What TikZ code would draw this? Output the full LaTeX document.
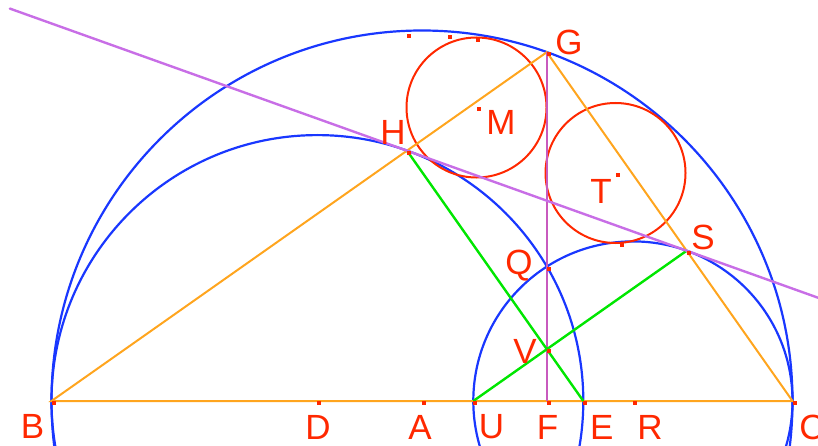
\documentclass[tikz,border=0pt]{standalone}
\usepackage{fontspec}
\setmainfont{Liberation Sans}
\usetikzlibrary{calc}
\definecolor{arcblue}{RGB}{25,55,255}
\definecolor{ptred}{RGB}{255,40,0}
\definecolor{segorange}{RGB}{255,165,30}
\definecolor{segpurple}{RGB}{200,110,230}
\definecolor{segpink}{RGB}{200,90,190}
\definecolor{seggreen}{RGB}{0,230,0}
\tikzset{
  arcline/.style={arcblue, line width=1.1pt},
  twinline/.style={ptred, line width=1pt},
  lbl/.style={anchor=base, inner sep=0pt, text=ptred, font=\fontsize{17.5}{20}\selectfont},
}
\begin{document}
\begin{tikzpicture}[x=0.5pt,y=0.5pt]
\useasboundingbox (0,0) rectangle (818,445);
\clip (0,0) rectangle (818,445);
%%%%%%%%% points on the base line
\coordinate (B) at (51.5,44);
\coordinate (D) at (317.4,44);
\coordinate (A) at (422,44);
\coordinate (U) at (473.3,44);
\coordinate (F) at (546.8,44);
\coordinate (E) at (583.3,44);
\coordinate (R) at (632.9,44);
\coordinate (C) at (792.5,44);
%%%%%%%%% other points
\coordinate (G) at (546.8,392.8);
\coordinate (H) at ($(B)!(E)!(G)$);
\coordinate (S) at ($(C)!(U)!(G)$);
\coordinate (Q) at (546.8,178.5);
\coordinate (V) at (intersection of H--E and U--S);
\coordinate (M) at (476.5,337.5);
\coordinate (T) at (615.5,272);
\coordinate (P1) at (406.7,411);
\coordinate (P2) at (448.3,410);
\coordinate (P3) at (476,406.7);
\coordinate (P4) at (620,201.7);

%%%%%%%%% semicircles
\draw[arcline] (A) circle (370.5);
\draw[arcline] (D) circle (265.9);
\draw[arcline] (R) circle (159.6);

%%%%%%%%% twin circles
\draw[twinline] (M) circle (70);
\draw[twinline] (T) circle (70);

%%%%%%%%% triangle and lines
\draw[segorange, line width=1pt] (B) -- (C) -- (G) -- cycle;
\draw[segpink, line width=1pt] (F) -- (G);
\draw[seggreen, line width=1.2pt] (H) -- (E);
\draw[seggreen, line width=1.2pt] (U) -- (S);
\draw[segpurple, line width=1.2pt, line cap=round] ($(H)!-1.42!(S)$) -- ($(H)!1.6!(S)$);

%%%%%%%%% dots
\foreach \p in {B,D,A,U,F,E,R,C,G,H,S,Q,V,M,T,P1,P2,P3,P4}
  \fill[ptred] (\p) rectangle ++(4,-4);

%%%%%%%%% labels
\node[lbl] (lB) at (32.5,6.7) {B};
\node[lbl] (lD) at (318,5.5) {D};
\node[lbl] (lA) at (420,5.5) {A};
\node[lbl] (lU) at (491.5,6.7) {U};
\node[lbl] (lF) at (547.5,5.7) {F};
\node[lbl] (lE) at (601.7,6) {E};
\node[lbl] (lR) at (650,6) {R};
\node[lbl] (lC) at (812,6) {C};
\node[lbl] (lQ) at (519,171) {Q};
\node[lbl] (lV) at (525,81.7) {V};
\node[lbl] (lS) at (703,195.5) {S};
\node[lbl] (lG) at (569,390) {G};
\node[lbl] (lH) at (393,300) {H};
\node[lbl] (lM) at (501,310) {M};
\node[lbl] (lT) at (601,241.7) {T};
\end{tikzpicture}
\end{document}
